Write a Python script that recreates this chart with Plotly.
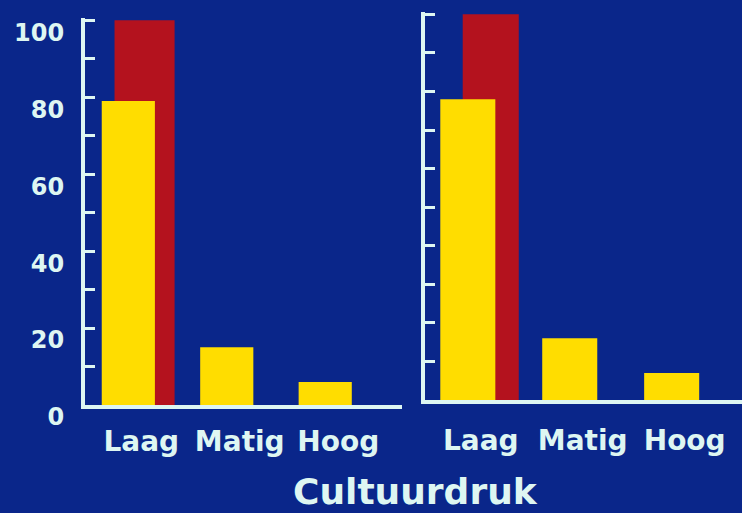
import plotly.graph_objects as go

categories = ['Laag', 'Matig', 'Hoog']
left_yellow = [79, 15, 6]
left_red = [100, 0, 0]
right_yellow = [78, 16, 7]
right_red = [100, 0, 0]
y_tick_vals = [0, 10, 20, 30, 40, 50, 60, 70, 80, 90, 100]
y_tick_text = ['0', '', '20', '', '40', '', '60', '', '80', '', '100']
x_title = 'Cultuurdruk'

BG = 'rgb(10, 38, 138)'
YELLOW = 'rgb(255, 221, 0)'
RED = 'rgb(180, 18, 30)'
INK = 'rgb(222, 246, 242)'
FONT = 'DejaVu Sans'

fig = go.Figure()

# red bars sit behind the yellow ones, shifted to the right
fig.add_trace(go.Bar(x=categories, y=left_red, marker=dict(color=RED, line=dict(width=0)),
                     offset=-0.14, width=0.61, xaxis='x', yaxis='y'))
fig.add_trace(go.Bar(x=categories, y=left_yellow, marker=dict(color=YELLOW, line=dict(width=0)),
                     offset=-0.27, width=0.54, xaxis='x', yaxis='y'))
fig.add_trace(go.Bar(x=categories, y=right_red, marker=dict(color=RED, line=dict(width=0)),
                     offset=-0.05, width=0.55, xaxis='x2', yaxis='y2'))
fig.add_trace(go.Bar(x=categories, y=right_yellow, marker=dict(color=YELLOW, line=dict(width=0)),
                     offset=-0.27, width=0.54, xaxis='x2', yaxis='y2'))

xstyle = dict(
    type='category', showline=True, linecolor=INK, linewidth=4, showgrid=False,
    zeroline=False, ticks='', automargin=False,
    tickfont=dict(family=FONT, size=28, color=INK, weight='bold'),
    ticklabelshift=13,
)
ystyle = dict(
    range=[0, 100.6], showline=True, linecolor=INK, linewidth=4, showgrid=False,
    zeroline=False, ticks='inside', ticklen=10, tickwidth=3, tickcolor=INK,
    tickvals=y_tick_vals, automargin=False,
)

fig.update_layout(
    width=742, height=513, autosize=False,
    margin=dict(l=0, r=0, t=0, b=0),
    paper_bgcolor=BG, plot_bgcolor=BG,
    barmode='overlay', showlegend=False,
    xaxis=dict(xstyle, domain=[85 / 742, 402 / 742], range=[-0.44, 2.78], anchor='y',
               ticklabelstandoff=8),
    yaxis=dict(ystyle, domain=[1 - 405 / 513, 1 - 18 / 513], anchor='x',
               ticktext=y_tick_text,
               tickfont=dict(family=FONT, size=24, color=INK, weight='bold'),
               ticklabelshift=12, ticklabelstandoff=12, ticklabeloverflow='allow'),
    xaxis2=dict(xstyle, domain=[425 / 742, 1.0], range=[-0.42, 2.69], anchor='y2',
                ticklabelstandoff=12),
    yaxis2=dict(ystyle, domain=[1 - 400 / 513, 1 - 12 / 513], anchor='x2',
                showticklabels=False),
    annotations=[dict(text=x_title, x=415 / 742, y=1 - 491 / 513, xref='paper', yref='paper',
                      showarrow=False, xanchor='center', yanchor='middle',
                      font=dict(family=FONT, size=36, color=INK, weight='bold'))],
)

fig.write_html('out.html', config={'displayModeBar': False},
               post_script="document.body.style.margin='0';")
